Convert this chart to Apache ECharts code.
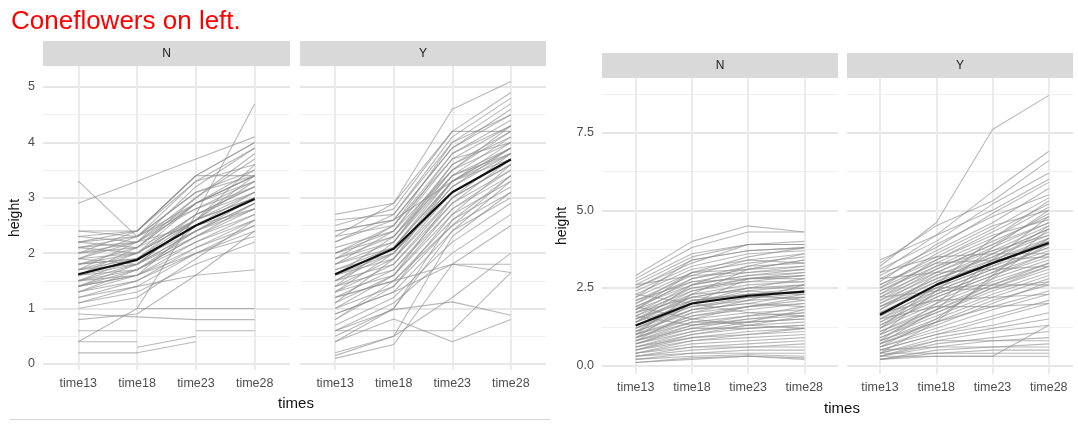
<!DOCTYPE html>
<html><head><meta charset="utf-8">
<script src="https://cdn.jsdelivr.net/npm/echarts@6/dist/echarts.min.js"></script>
<style>html,body{margin:0;padding:0;background:#fff}#c{width:1078px;height:426px}</style>
</head><body><div id="c"></div>
<script>
// ---------- data ----------
const times = ['time13', 'time18', 'time23', 'time28'];
const facets = ['N', 'Y'];
const titleText = 'Coneflowers on left.';
const leftYTicks = [0, 1, 2, 3, 4, 5];
const leftYMinor = [0.5, 1.5, 2.5, 3.5, 4.5];
const rightYTicks = [0, 2.5, 5, 7.5];
const rightYMinor = [1.25, 3.75, 6.25, 8.75];

const meanConeN = [1.62, 1.88, 2.5, 2.98];
const meanConeY = [1.62, 2.08, 3.1, 3.69];
const meanOtherN = [1.29, 2.0, 2.25, 2.38];
const meanOtherY = [1.64, 2.6, 3.3, 3.95];

const coneN = [
  [2.9,3.3,3.7,4.1],[3.3,2.3,2.9,3.4],[0.4,1.0,2.7,4.7],[2.4,2.4,3.4,4.0],[2.3,2.2,3.0,3.8],
  [2.3,2.4,3.3,3.6],[2.2,2.3,3.1,3.5],[2.2,2.1,2.9,3.4],[2.1,2.3,2.8,3.3],[2.1,2.0,2.7,3.2],
  [2.0,2.2,2.9,3.4],[2.0,2.1,2.6,3.1],[1.9,2.0,2.6,3.0],[1.9,2.2,2.8,3.2],[1.8,1.9,2.5,3.0],
  [1.8,2.0,2.7,3.1],[1.8,1.9,2.4,2.9],[1.7,1.9,2.6,3.0],[1.7,1.8,2.3,2.8],[1.7,2.0,2.6,3.3],
  [1.6,1.8,2.4,2.9],[1.6,1.9,2.5,3.1],[1.6,1.7,2.3,2.7],[1.5,1.8,2.4,2.8],[1.5,1.7,2.2,2.6],
  [1.5,1.9,2.7,3.2],[1.4,1.7,2.3,2.9],[1.4,1.6,2.1,2.6],[1.4,1.8,2.6,3.4],[1.3,1.6,2.2,2.7],
  [1.3,1.7,2.4,3.0],[1.3,1.5,2.0,2.4],[1.2,1.4,1.6,1.7],[1.2,1.5,2.1,2.5],[1.1,1.4,2.0,2.3],
  [1.1,1.3,1.8,2.2],[1.6,2.1,3.0,3.7],[1.7,2.2,3.2,3.9],[1.9,2.3,3.3,3.9],[2.0,2.4,3.4,4.0],
  [1.8,2.1,2.9,3.5],[2.1,2.2,2.5,2.8],[1.5,1.6,2.0,2.5],[0.9,0.85,0.8,0.8],[null,1.0,1.0,1.0],
  [0.6,0.6,null,null],[null,null,0.6,0.6],[0.2,0.2,null,null],[null,0.2,0.4,null],[null,0.3,0.5,null],
  [0.4,0.4,null,null],[1.0,1.2,1.9,2.6],[2.4,2.3,3.1,3.4],[1.9,1.8,2.6,3.6],[2.2,2.4,3.4,3.4],
  [1.6,2.0,2.9,3.3],[1.4,1.6,2.5,3.0],[0.8,0.9,1.6,2.4]
];
const coneY = [
  [2.3,2.9,4.6,5.1],[2.7,2.9,4.2,4.9],[2.5,2.8,4.2,4.2],[2.6,2.7,4.0,4.7],[2.4,2.6,3.9,4.6],
  [2.3,2.5,3.8,4.4],[2.2,2.6,3.9,4.5],[2.1,2.4,3.7,4.3],[2.0,2.3,3.6,4.2],[2.0,2.4,3.5,4.0],
  [1.9,2.3,3.4,4.1],[1.9,2.2,3.5,4.3],[1.8,2.1,3.3,3.9],[1.8,2.2,3.4,3.8],[1.7,2.0,3.2,3.8],
  [1.7,2.1,3.3,4.0],[1.6,2.0,3.1,3.7],[1.6,1.9,3.0,3.6],[1.5,2.0,3.2,3.9],[1.5,1.8,2.9,3.5],
  [1.4,1.9,3.1,3.7],[1.4,1.7,2.8,3.4],[1.3,1.8,3.0,3.6],[1.3,1.6,2.7,3.3],[1.2,1.7,2.9,3.7],
  [1.2,1.5,2.6,3.2],[1.1,1.6,2.8,3.5],[1.0,1.4,2.5,3.1],[1.0,1.6,3.0,3.8],[0.9,1.3,2.4,3.0],
  [0.8,1.4,2.7,3.6],[0.7,1.2,2.2,2.9],[0.6,1.1,2.0,2.7],[0.5,1.0,2.4,3.3],[0.4,1.0,2.6,3.4],
  [0.2,0.5,2.3,3.1],[0.1,0.35,1.8,2.5],[0.9,1.3,1.8,1.8],[1.2,1.5,1.8,1.65],[0.6,0.6,0.6,1.65],
  [0.6,0.98,1.12,0.88],[0.4,0.81,0.4,0.8],[0.15,0.5,1.2,2.0],[2.0,2.5,4.0,4.5],[2.2,2.7,4.1,4.8],
  [1.6,2.3,3.5,4.2],[1.4,2.2,3.6,4.1],[1.9,2.5,3.7,4.0],[1.1,1.9,3.3,3.9],[0.8,1.5,2.5,3.4],
  [1.5,2.1,3.4,3.9],[1.3,2.0,3.3,3.8],[2.4,2.6,3.3,3.7],[1.8,2.4,3.8,4.3]
];
const otherN = [
  [2.9,4.0,4.5,4.3],[2.8,3.8,4.3,4.3],[2.7,3.6,3.9,4.0],[2.6,3.5,3.9,3.9],[2.5,3.4,3.7,3.8],
  [2.4,3.2,3.6,3.7],[2.3,3.1,3.4,3.6],[2.2,3.0,3.3,3.5],[2.1,2.9,3.4,3.3],[2.0,2.8,3.1,3.2],
  [2.0,3.0,3.5,3.8],[1.9,2.7,3.0,3.1],[1.9,2.6,2.9,3.0],[1.8,2.8,3.2,3.3],[1.8,2.5,2.7,2.9],
  [1.7,2.4,2.8,2.9],[1.7,2.6,2.9,3.1],[1.6,2.3,2.6,2.7],[1.6,2.5,2.8,2.8],[1.5,2.2,2.5,2.6],
  [1.5,2.4,2.7,2.7],[1.5,2.1,2.3,2.5],[1.4,2.2,2.5,2.5],[1.4,2.0,2.4,2.6],[1.4,2.3,2.4,2.3],
  [1.3,2.1,2.3,2.4],[1.3,1.9,2.2,2.4],[1.3,2.0,2.5,2.8],[1.2,1.9,2.1,2.2],[1.2,2.0,2.3,2.1],
  [1.2,1.8,2.0,2.3],[1.1,1.8,2.2,2.3],[1.1,1.7,1.9,2.0],[1.1,2.1,2.2,2.2],[1.0,1.6,1.9,2.1],
  [1.0,1.8,2.0,1.9],[1.0,1.5,1.7,1.8],[0.9,1.6,1.8,2.0],[0.9,1.4,1.6,1.7],[0.9,1.5,1.9,2.2],
  [0.8,1.3,1.5,1.7],[0.8,1.4,1.4,1.5],[0.8,1.2,1.5,1.6],[0.7,1.3,1.6,1.9],[0.7,1.1,1.3,1.4],
  [0.7,1.2,1.2,1.3],[0.6,1.0,1.2,1.3],[0.6,1.1,1.4,1.5],[0.6,0.9,1.1,1.2],[0.5,0.9,1.0,1.1],
  [0.5,0.8,0.9,1.0],[0.5,1.0,1.3,1.6],[0.4,0.7,0.8,0.9],[0.4,0.6,0.7,0.8],[0.4,0.8,1.0,1.2],
  [0.3,0.6,0.6,0.6],[0.3,0.5,0.6,0.7],[0.3,0.4,0.5,0.5],[0.2,0.4,0.4,0.4],[0.2,0.3,0.35,0.3],
  [0.1,0.25,0.3,0.25],[0.1,0.2,0.3,0.2],[2.5,3.3,3.9,3.9],[2.2,3.4,3.7,3.8],[1.8,3.0,3.1,3.4],
  [2.6,2.9,3.0,3.2],[1.6,1.3,1.4,1.8],[1.9,1.5,1.3,1.2],[2.3,2.0,1.7,1.6],[0.9,2.0,2.8,3.0],
  [1.4,2.6,3.2,3.6],[1.0,2.3,3.1,3.4],[2.1,2.7,2.8,2.9],[1.7,2.2,2.2,2.4],[0.8,1.7,2.1,2.6]
];
const otherY = [
  [3.2,4.6,7.6,8.7],[3.4,4.2,5.6,6.9],[3.3,4.5,5.3,6.6],[3.1,4.0,5.2,6.2],[3.0,4.2,5.0,6.0],
  [2.9,3.8,4.9,5.9],[2.8,3.7,4.6,5.7],[2.7,3.9,4.8,5.5],[2.6,3.5,4.4,5.4],[2.6,3.4,4.3,5.2],
  [2.5,3.6,4.5,5.0],[2.4,3.3,4.1,5.1],[2.4,3.2,4.0,4.8],[2.3,3.1,3.9,4.9],[2.3,3.4,4.2,4.7],
  [2.2,3.0,3.8,4.6],[2.2,3.2,3.7,4.5],[2.1,2.9,3.6,4.4],[2.1,3.1,3.9,4.6],[2.0,2.8,3.5,4.3],
  [2.0,3.0,3.7,4.2],[1.9,2.8,3.4,4.1],[1.9,2.7,3.6,4.4],[1.8,2.7,3.3,4.0],[1.8,2.9,3.5,4.2],
  [1.7,2.6,3.3,3.9],[1.7,2.5,3.2,3.8],[1.6,2.6,3.4,4.0],[1.6,2.4,3.1,3.7],[1.5,2.5,3.2,4.1],
  [1.5,2.3,3.0,3.6],[1.4,2.4,3.1,3.8],[1.4,2.2,2.9,3.5],[1.3,2.1,2.8,3.4],[1.3,2.3,3.0,3.9],
  [1.2,2.0,2.7,3.3],[1.2,2.2,2.9,3.6],[1.1,1.9,2.6,3.2],[1.1,1.8,2.5,3.1],[1.0,1.8,2.6,3.3],
  [1.0,1.7,2.4,3.0],[0.9,1.6,2.3,2.9],[0.9,1.7,2.5,3.2],[0.8,1.5,2.2,2.8],[0.8,1.4,2.1,2.6],
  [0.7,1.3,2.0,2.7],[0.7,1.4,1.9,2.4],[0.6,1.2,1.8,2.3],[0.6,1.1,1.6,2.1],[0.5,1.0,1.5,2.0],
  [0.5,1.0,1.3,1.7],[0.4,0.9,1.2,1.5],[0.4,0.8,1.1,1.3],[0.3,0.7,0.9,1.1],[0.3,0.6,0.8,0.9],
  [0.3,0.8,0.8,0.8],[0.2,0.5,0.6,0.7],[0.2,0.4,0.5,0.5],[0.3,0.3,0.3,1.3],[0.4,0.4,0.4,0.4],
  [0.5,0.6,0.6,0.6],[0.2,0.3,0.3,0.3],[0.6,1.5,2.8,4.1],[0.4,1.4,2.9,4.4],[0.8,2.0,3.4,4.8],
  [1.0,2.4,3.8,5.0],[1.2,2.6,4.1,5.3],[0.7,1.8,3.3,4.5],[2.5,3.3,3.4,3.5],[2.8,3.0,3.1,3.2],
  [1.9,2.5,2.6,2.6],[2.2,2.4,2.5,2.7],[1.7,2.1,2.2,2.3],[3.0,3.5,3.6,3.6],[1.5,1.9,1.9,2.0]
];

// ---------- layout ----------
const FONT = '"Liberation Sans", Arial, sans-serif';
const panels = [
  {left: 43, top: 66, width: 247, height: 304, ymin: -0.11, ymax: 5.38, xmin: -0.6, xmax: 3.6,
   lines: coneN, mean: meanConeN, major: leftYTicks, minor: leftYMinor, facet: 0, showY: true, fmt: v => String(v), nameGap: 21},
  {left: 300, top: 66, width: 246, height: 304, ymin: -0.11, ymax: 5.38, xmin: -0.6, xmax: 3.6,
   lines: coneY, mean: meanConeY, major: leftYTicks, minor: leftYMinor, facet: 1, showY: false},
  {left: 602, top: 78, width: 236, height: 296, ymin: -0.27, ymax: 9.26, xmin: -0.6, xmax: 3.6,
   lines: otherN, mean: meanOtherN, major: rightYTicks, minor: rightYMinor, facet: 0, showY: true, fmt: v => v.toFixed(1), nameGap: 33},
  {left: 847, top: 78, width: 226, height: 296, ymin: -0.27, ymax: 9.26, xmin: -0.586, xmax: 3.43,
   lines: otherY, mean: meanOtherY, major: rightYTicks, minor: rightYMinor, facet: 1, showY: false}
];

const grid = [], xAxis = [], yAxis = [], series = [], graphic = [];
const xIdx = times.map((t, i) => i);

panels.forEach((p, k) => {
  grid.push({left: p.left, top: p.top, width: p.width, height: p.height, containLabel: false,
    show: true, backgroundColor: '#ffffff', borderWidth: 0});
  xAxis.push({type: 'value', gridIndex: k, min: p.xmin, max: p.xmax,
    axisLine: {show: false}, splitLine: {show: false},
    axisTick: {show: true, customValues: xIdx, length: 3, lineStyle: {color: '#555', width: 1}},
    axisLabel: {show: true, customValues: xIdx, formatter: v => times[Math.round(v)] || '',
      color: '#4d4d4d', fontSize: 12.5, fontFamily: FONT, margin: 7}});
  const ya = {type: 'value', gridIndex: k, min: p.ymin, max: p.ymax,
    axisLine: {show: false}, splitLine: {show: false},
    axisTick: {show: p.showY, customValues: p.major, length: 3, lineStyle: {color: '#555', width: 1}},
    axisLabel: {show: p.showY, customValues: p.major, formatter: p.fmt || (v => String(v)),
      color: '#4d4d4d', fontSize: 12.5, fontFamily: FONT, margin: 8}};
  if (p.showY) {
    Object.assign(ya, {name: 'height', nameLocation: 'middle', nameRotate: 90, nameGap: p.nameGap,
      nameTextStyle: {color: '#111', fontSize: 14, fontFamily: FONT}});
  }
  yAxis.push(ya);

  // background grid lines (major + minor) drawn through the axes
  const ml = [];
  p.major.forEach(v => ml.push({yAxis: v, lineStyle: {color: '#e6e6e6', width: 2, type: 'solid'}}));
  p.minor.forEach(v => ml.push({yAxis: v, lineStyle: {color: '#efefef', width: 1, type: 'solid'}}));
  xIdx.forEach(v => ml.push({xAxis: v, lineStyle: {color: '#ebebeb', width: 2, type: 'solid'}}));
  series.push({type: 'line', xAxisIndex: k, yAxisIndex: k, z: 1, silent: true, symbol: 'none',
    data: p.mean.map((v, i) => [i, v]), lineStyle: {opacity: 0},
    markLine: {z: 1, silent: true, symbol: ['none', 'none'], label: {show: false}, animation: false, data: ml}});

  p.lines.forEach(row => {
    series.push({type: 'line', xAxisIndex: k, yAxisIndex: k, z: 2, silent: true, symbol: 'none',
      connectNulls: false, animation: false,
      data: row.map((v, i) => [i, v == null ? '-' : v]),
      lineStyle: {color: 'rgba(140,140,140,0.62)', width: 1.1}});
  });
  series.push({type: 'line', xAxisIndex: k, yAxisIndex: k, z: 3, silent: true, symbol: 'none',
    animation: false, data: p.mean.map((v, i) => [i, v]),
    lineStyle: {color: '#111111', width: 2.2}});

  // facet strip
  graphic.push({type: 'rect', left: p.left, top: p.top - 25, shape: {width: p.width, height: 25},
    style: {fill: '#d9d9d9'}, silent: true});
  graphic.push({type: 'text', x: p.left + p.width / 2, y: p.top - 12.5,
    style: {text: facets[p.facet], fill: '#1a1a1a', font: '12px ' + FONT, align: 'center', verticalAlign: 'middle'}});
});

graphic.push({type: 'text', x: 296, y: 404,
  style: {text: 'times', fill: '#111', font: '15px ' + FONT, align: 'center', verticalAlign: 'middle'}});
graphic.push({type: 'text', x: 842, y: 409,
  style: {text: 'times', fill: '#111', font: '15px ' + FONT, align: 'center', verticalAlign: 'middle'}});
graphic.push({type: 'line', shape: {x1: 10, y1: 419.5, x2: 550, y2: 419.5},
  style: {stroke: '#d6d6d6', lineWidth: 1}, silent: true});

const chart = echarts.init(document.getElementById('c'), null, {renderer: 'canvas'});
chart.setOption({
  animation: false,
  backgroundColor: '#ffffff',
  title: {text: titleText, left: 6, top: 4,
    textStyle: {color: '#ff0000', fontSize: 26, fontWeight: 'normal', fontFamily: FONT}},
  grid, xAxis, yAxis, series, graphic
});
</script></body></html>
